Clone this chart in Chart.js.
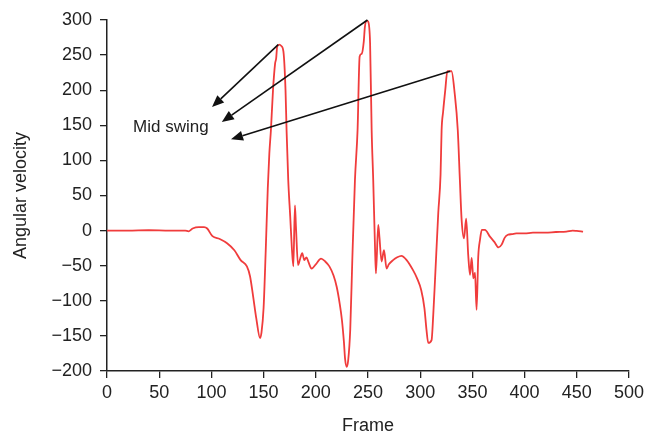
<!DOCTYPE html>
<html>
<head>
<meta charset="utf-8">
<script src="https://cdn.jsdelivr.net/npm/chart.js@4"></script>
<style>
html,body{margin:0;padding:0;background:#fff;}
#wrap{width:650px;height:437px;position:relative;}
</style>
</head>
<body>
<div id="wrap"><canvas id="c" width="650" height="437"></canvas></div>
<script>
// Frame numbers and angular velocity values
const frames = [0,20,40,60,75,78,82,88,93,96,101,108,115,122,128,134,137,140,143,146.6,148,150,152,154,155.5,157,159,161,162,163,165,167,169,171,172,173.6,175.5,177,178.5,180,181,183,185,187,189,191,193,196,200,205,209,213,217,220,223,225,227,228,229.6,231,233,235,237.5,240,242,244,246,247,249,250,252,253.5,255,256.7,257.6,259.8,261,263,265.3,267.8,270,274,278,282,287,293,297,301,304,306,307.7,310.9,312.5,314.2,317.3,319.5,320.5,322,324,326,330,333,336,338,339.7,342,344,346,347.7,349.3,350.9,352.5,354,355.6,357.3,359,362,367,371,375,378,381,384,388,392,400,408,420,430,440,446,450,456];
const velocity = [0,0,0.5,0,0,-1,3,5,5,3,-8,-12,-18,-28,-42,-51,-65,-94,-125,-153,-145,-110,-30,60,110,143,200,238,245,262,265,263,255,200,143,72,20,-23,-51,36,5,-49,-40,-32,-42,-38,-45,-54,-48,-40,-44,-51,-64,-80,-105,-127,-160,-182,-194,-185,-141,-40,72,143,248,252,270,290,299,298,267,143,72,-23,-61,8,-10,-44,-28,-54,-48,-42,-38,-36,-42,-56,-68,-85,-110,-141,-160,-156,-120,-70,25,80,143,170,200,227,227,196,143,72,15,-11,17,-35,-63,-39,-68,-60,-113,-37,-13,1,1,-9,-16,-24,-20,-10,-6,-5,-4,-4,-3,-3,-2,-1.5,0,-0.5,-1.5];
const xTicks = [0,50,100,150,200,250,300,350,400,450,500];
const yTicks = [-200,-150,-100,-50,0,50,100,150,200,250,300];
// annotation arrows: [fromFrame, fromValue, toFrame, toValue]
const arrowFrom = [[164,265],[249.5,300],[328.5,227]];
const arrowTo = [[100.6,176],[110,154.6],[118.8,130]];
const labelText = "Mid swing";
const labelPos = [25,147.5];

const points = frames.map((f,i)=>({x:f,y:velocity[i]}));

const FONT = "'Liberation Sans', Arial, Helvetica, sans-serif";

const annot = {
  id:'annot',
  afterDatasetsDraw(chart){
    const ctx = chart.ctx, xs = chart.scales.x, ys = chart.scales.y;
    ctx.save();
    ctx.strokeStyle = '#111';
    ctx.fillStyle = '#111';
    ctx.lineWidth = 1.6;
    for(let i=0;i<arrowFrom.length;i++){
      const x1 = xs.getPixelForValue(arrowFrom[i][0]), y1 = ys.getPixelForValue(arrowFrom[i][1]);
      const x2 = xs.getPixelForValue(arrowTo[i][0]), y2 = ys.getPixelForValue(arrowTo[i][1]);
      const ang = Math.atan2(y2-y1, x2-x1);
      const L = 12, W = 5;
      const bx = x2 - L*Math.cos(ang), by = y2 - L*Math.sin(ang);
      ctx.beginPath(); ctx.moveTo(x1,y1); ctx.lineTo(bx,by); ctx.stroke();
      ctx.beginPath();
      ctx.moveTo(x2,y2);
      ctx.lineTo(bx + W*Math.sin(ang), by - W*Math.cos(ang));
      ctx.lineTo(bx - W*Math.sin(ang), by + W*Math.cos(ang));
      ctx.closePath(); ctx.fill();
    }
    ctx.font = "17px " + FONT;
    ctx.textAlign = 'left'; ctx.textBaseline = 'middle';
    ctx.fillStyle = '#222';
    ctx.fillText(labelText, xs.getPixelForValue(labelPos[0]), ys.getPixelForValue(labelPos[1]));
    ctx.restore();
  }
};

new Chart(document.getElementById('c'), {
  type:'line',
  data:{datasets:[{data:points, borderColor:'#f03c3c', borderWidth:1.8, pointRadius:0, cubicInterpolationMode:'monotone', fill:false}]},
  options:{
    responsive:false, animation:false, events:[],
    layout:{padding:{left:0,right:21,top:20,bottom:0}},
    plugins:{legend:{display:false}, tooltip:{enabled:false}},
    scales:{
      x:{type:'linear', min:0, max:500,
        afterBuildTicks(s){ s.ticks = xTicks.map(v=>({value:v})); },
        afterFit(s){ s.height = 66; },
        border:{color:'#222', width:1.5},
        grid:{drawOnChartArea:false, tickLength:7, color:'#222', lineWidth:1.3},
        ticks:{color:'#222', padding:4, font:{family:FONT, size:18}, maxRotation:0, autoSkip:false},
        title:{display:true, text:'Frame', color:'#222', font:{family:FONT, size:18}, padding:{top:6,bottom:0}}
      },
      y:{type:'linear', min:-200, max:300,
        afterBuildTicks(s){ s.ticks = yTicks.map(v=>({value:v})); },
        afterFit(s){ s.width = 107; },
        border:{color:'#222', width:1.5},
        grid:{drawOnChartArea:false, tickLength:7, color:'#222', lineWidth:1.3},
        ticks:{color:'#222', padding:8, font:{family:FONT, size:18}, autoSkip:false,
          callback:(v)=> (v<0 ? '\u2212'+Math.abs(v) : String(v))},
        title:{display:true, text:'Angular velocity', color:'#222', font:{family:FONT, size:18}, padding:{top:10,bottom:0}}
      }
    }
  },
  plugins:[annot]
});
</script>
</body>
</html>
